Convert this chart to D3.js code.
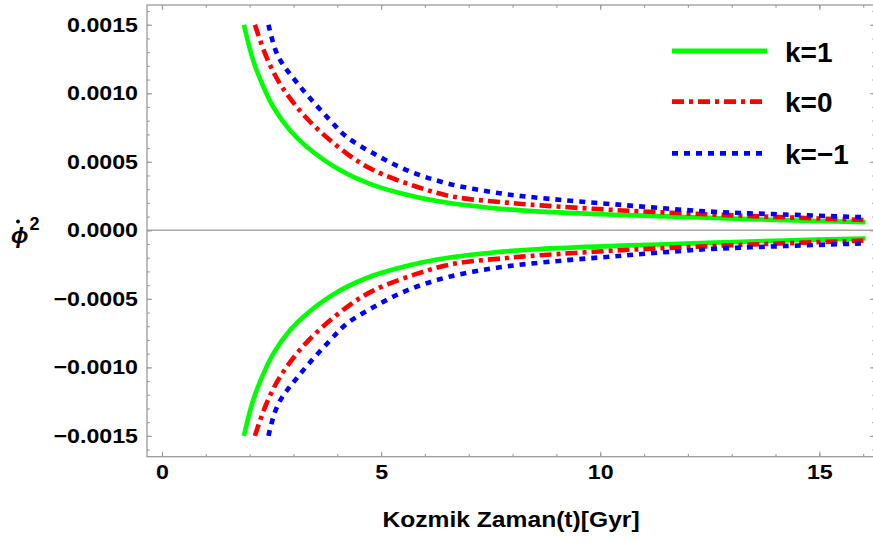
<!DOCTYPE html>
<html>
<head>
<meta charset="utf-8">
<script src="https://cdn.jsdelivr.net/npm/d3@7"></script>
<style>
  html, body { margin: 0; padding: 0; background: #fff; }
  svg { display: block; }
  text { font-family: "Liberation Sans", Arial, sans-serif; }
</style>
</head>
<body>
<svg id="chart" width="873" height="541"></svg>
<script>
// Kinetic term of the scalar field vs cosmic time, for k = 1, 0, -1
const tK1  = [1.87, 2.08, 2.31, 2.54, 2.92, 3.30, 4.06, 4.82, 5.58, 6.34, 7.10, 7.87, 8.63, 10.5, 12.43, 14.2, 16.05];
const vK1  = [0.00150, 0.00124, 0.00105, 0.00090, 0.00073, 0.00061, 0.00044, 0.00033, 0.00026, 0.00021, 0.000177, 0.000153, 0.000136, 0.000112, 0.000092, 0.000074, 0.000060];

const tK0  = [2.12, 2.39, 2.73, 3.34, 4.21, 4.82, 5.81, 6.65, 7.87, 8.63, 10.5, 12.43, 14.2, 16.05];
const vK0  = [0.00150, 0.00126, 0.00105, 0.000805, 0.000562, 0.00044, 0.000318, 0.000245, 0.000202, 0.000182, 0.000145, 0.000117, 0.000095, 0.000075];

const tKm1 = [2.43, 2.65, 3.15, 3.83, 4.21, 4.82, 5.58, 6.50, 7.71, 8.63, 10.5, 12.43, 14.2, 16.05];
const vKm1 = [0.00150, 0.00127, 0.00105, 0.000805, 0.000683, 0.000562, 0.00044, 0.000343, 0.00027, 0.000236, 0.000185, 0.000138, 0.000115, 0.000095];

const seriesLabels = ["k=1", "k=0", "k=\u22121"];
const xMajorTicks = [0, 5, 10, 15];
const xMinorTicks = d3.range(0, 17, 1);
const yMajorTicks = [-0.0015, -0.0010, -0.0005, 0, 0.0005, 0.0010, 0.0015];
const yMinorTicks = d3.range(-16, 17, 1).map(d => d * 0.0001);

const W = 873, H = 541;
const plot = { left: 147, right: 875, top: 5, bottom: 456.7 };

const x = d3.scaleLinear().domain([-0.342, 16.27]).range([plot.left, plot.right]);
const y = d3.scaleLinear().domain([-0.001652, 0.001644]).range([plot.bottom, plot.top]);

const svg = d3.select("#chart");
svg.append("rect").attr("width", W).attr("height", H).attr("fill", "#fff");

const frameColor = "#9a9a9a";

// zero line
svg.append("line")
  .attr("x1", plot.left).attr("x2", plot.right)
  .attr("y1", y(0)).attr("y2", y(0))
  .attr("stroke", "#a8a8a8").attr("stroke-width", 1.6);

// frame
svg.append("rect")
  .attr("x", plot.left).attr("y", plot.top)
  .attr("width", plot.right - plot.left).attr("height", plot.bottom - plot.top)
  .attr("fill", "none").attr("stroke", frameColor).attr("stroke-width", 1.3);

function styleAxis(g) {
  g.select(".domain").remove();
  g.selectAll(".tick line").attr("stroke", frameColor).attr("stroke-width", 1.1);
  g.selectAll(".tick text")
    .attr("fill", "#000").attr("font-weight", "bold").attr("font-size", 20);
}

// bottom axis
svg.append("g").attr("transform", `translate(0,${plot.bottom})`)
  .call(d3.axisBottom(x).tickValues(xMinorTicks).tickSize(-2.8).tickFormat(""))
  .call(styleAxis);
const gxb = svg.append("g").attr("transform", `translate(0,${plot.bottom})`)
  .call(d3.axisBottom(x).tickValues(xMajorTicks).tickSize(-5).tickPadding(8).tickFormat(d3.format("d")))
  .call(styleAxis);
gxb.selectAll(".tick text").attr("transform", "scale(1.16,1)").attr("x", 0);

// top axis (ticks only)
svg.append("g").attr("transform", `translate(0,${plot.top})`)
  .call(d3.axisTop(x).tickValues(xMinorTicks).tickSize(-2.8).tickFormat(""))
  .call(styleAxis);
svg.append("g").attr("transform", `translate(0,${plot.top})`)
  .call(d3.axisTop(x).tickValues(xMajorTicks).tickSize(-5).tickFormat(""))
  .call(styleAxis);

// left axis
svg.append("g").attr("transform", `translate(${plot.left},0)`)
  .call(d3.axisLeft(y).tickValues(yMinorTicks).tickSize(-2.8).tickFormat(""))
  .call(styleAxis);
const gyl = svg.append("g").attr("transform", `translate(${plot.left},0)`)
  .call(d3.axisLeft(y).tickValues(yMajorTicks).tickSize(-5).tickPadding(7.8).tickFormat(d3.format(".4f")))
  .call(styleAxis);
gyl.selectAll(".tick text").attr("transform", "scale(1.16,1)");

// right axis (ticks only)
svg.append("g").attr("transform", `translate(${plot.right},0)`)
  .call(d3.axisRight(y).tickValues(yMinorTicks).tickSize(-2.8).tickFormat(""))
  .call(styleAxis);
svg.append("g").attr("transform", `translate(${plot.right},0)`)
  .call(d3.axisRight(y).tickValues(yMajorTicks).tickSize(-5).tickFormat(""))
  .call(styleAxis);

// curves
const styles = [
  { color: "#00ff00", dash: null },
  { color: "#ff0000", dash: "12,5,4,5" },
  { color: "#0000ff", dash: "6,6" }
];
const series = [
  d3.zip(tK1, vK1),
  d3.zip(tK0, vK0),
  d3.zip(tKm1, vKm1)
];

const line = d3.line().x(d => x(d[0])).y(d => y(d[1])).curve(d3.curveCatmullRom.alpha(0.5));

const curves = svg.append("g");
series.forEach((pts, i) => {
  const st = styles[i];
  [1, -1].forEach(sign => {
    curves.append("path")
      .datum(pts.map(p => [p[0], sign * p[1]]))
      .attr("d", line)
      .attr("fill", "none")
      .attr("stroke", st.color)
      .attr("stroke-width", 4.6)
      .attr("stroke-dasharray", st.dash)
      .attr("stroke-linecap", "butt");
  });
});

// legend
const legendRows = [51, 101.7, 153.3];
const lg = svg.append("g");
seriesLabels.forEach((lab, i) => {
  lg.append("line")
    .attr("x1", 672).attr("x2", 767)
    .attr("y1", legendRows[i]).attr("y2", legendRows[i])
    .attr("stroke", styles[i].color).attr("stroke-width", 4.8)
    .attr("stroke-dasharray", styles[i].dash);
  lg.append("text")
    .attr("x", 785).attr("y", legendRows[i] + 10.5)
    .attr("font-size", 28).attr("font-weight", "bold")
    .attr("fill", "#000")
    .text(lab);
});

// axis titles
svg.append("text")
  .attr("transform", `translate(${(plot.left + plot.right) / 2},527) scale(1.12,1)`)
  .attr("text-anchor", "middle")
  .attr("font-size", 22).attr("font-weight", "bold").attr("fill", "#000")
  .text("Kozmik Zaman(t)[Gyr]");

// y title: phi-dot squared (time-derivative dot drawn as a small disc)
const yt = svg.append("text")
  .attr("x", 11).attr("y", 243)
  .attr("font-weight", "bold").attr("fill", "#000");
yt.append("tspan")
  .attr("font-size", 23).attr("font-style", "italic")
  .text("\u03d5");
yt.append("tspan")
  .attr("font-size", 18).attr("dx", 1).attr("dy", -13)
  .text("2");
svg.append("circle")
  .attr("cx", 18).attr("cy", 221.5).attr("r", 1.9)
  .attr("fill", "#000");
</script>
</body>
</html>
